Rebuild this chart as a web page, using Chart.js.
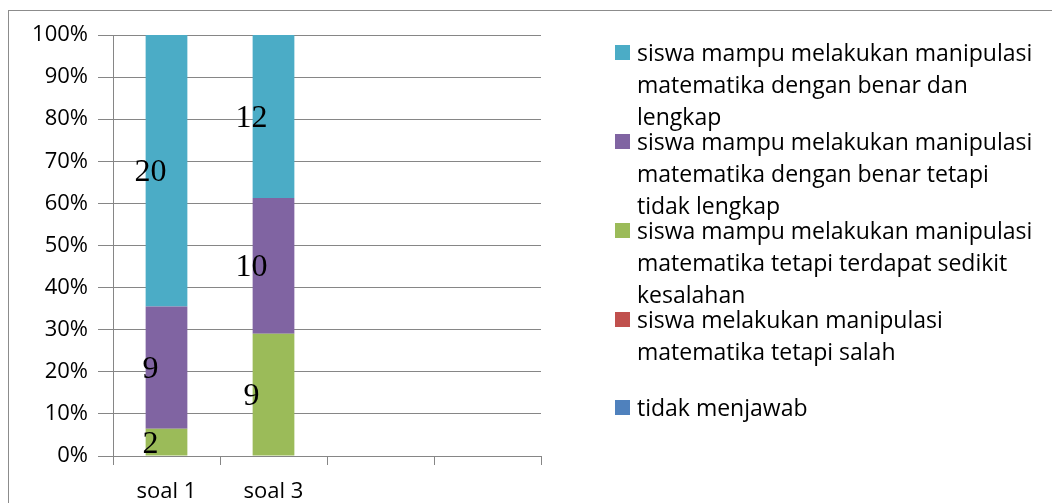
<!DOCTYPE html>
<html>
<head>
<meta charset="utf-8">
<script src="https://cdn.jsdelivr.net/npm/chart.js@4.4.1/dist/chart.umd.min.js"></script>
<style>
  html, body { margin: 0; padding: 0; background: #fff; }
  #wrap { position: relative; width: 1052px; height: 503px; overflow: hidden; }
  #frame { position: absolute; left: 8px; top: 10px; right: -2px; bottom: -2px; border: 1px solid #8c8c8c; }
  #chart { position: absolute; left: 0; top: 0; }
  .item { position: absolute; left: 615px; width: 437px; font-family: 'Open Sans', sans-serif; font-size: 23px; line-height: 32px; color: #000; }
  .item .sw { position: absolute; left: 0; top: 9px; width: 15px; height: 15px; }
  .item .tx { margin-left: 22px; white-space: pre-line; }
</style>
</head>
<body>
<div id="wrap">
  <div id="frame"></div>
  <canvas id="chart" width="1052" height="503"></canvas>
  <div id="legend"></div>
</div>
<script>
const categories = ['soal 1', 'soal 3', '', ''];

// bottom to top of each stack
const seriesNames = [
  'tidak menjawab',
  'siswa melakukan manipulasi\nmatematika tetapi salah',
  'siswa mampu melakukan manipulasi\nmatematika tetapi terdapat sedikit\nkesalahan',
  'siswa mampu melakukan manipulasi\nmatematika dengan benar tetapi\ntidak lengkap',
  'siswa mampu melakukan manipulasi\nmatematika dengan benar dan\nlengkap',
];
const seriesColors = ['#4F81BD', '#C0504D', '#9BBB59', '#8064A2', '#4BACC6'];

// counts per category (soal 1, soal 3, empty, empty)
const tidakMenjawab = [0, 0, 0, 0];
const salah = [0, 0, 0, 0];
const sedikitSalah = [2, 9, 0, 0];
const tidakLengkap = [9, 10, 0, 0];
const benarLengkap = [20, 12, 0, 0];
const counts = [tidakMenjawab, salah, sedikitSalah, tidakLengkap, benarLengkap];

const yTicks = [0, 10, 20, 30, 40, 50, 60, 70, 80, 90, 100];

const totals = categories.map((c, i) => counts.reduce((s, arr) => s + arr[i], 0));
const percents = counts.map(arr => arr.map((v, i) => totals[i] ? v / totals[i] * 100 : 0));

const valueLabels = {
  id: 'valueLabels',
  afterDatasetsDraw(chart) {
    const ctx = chart.ctx;
    ctx.save();
    ctx.font = '32px "Liberation Serif", "Times New Roman", serif';
    ctx.fillStyle = '#000';
    ctx.textAlign = 'center';
    ctx.textBaseline = 'middle';
    chart.data.datasets.forEach((ds, di) => {
      const meta = chart.getDatasetMeta(di);
      meta.data.forEach((el, i) => {
        const v = counts[di][i];
        if (!v) return;
        ctx.fillText(String(v), el.x - 16 - i * 6, (el.y + el.base) / 2 + 2);
      });
    });
    ctx.restore();
  }
};

const tickFont = { family: "'Open Sans', sans-serif", size: 22 };
const gridColor = '#868686';

new Chart(document.getElementById('chart'), {
  type: 'bar',
  data: {
    labels: categories,
    datasets: seriesNames.map((name, i) => ({
      label: name,
      data: percents[i],
      backgroundColor: seriesColors[i],
      borderWidth: 0,
      categoryPercentage: 1,
      barPercentage: 0.39,
    })),
  },
  options: {
    responsive: false,
    animation: false,
    layout: { padding: { left: 0, top: 35, right: 511, bottom: 0 } },
    plugins: { legend: { display: false }, tooltip: { enabled: false } },
    scales: {
      x: {
        stacked: true,
        grid: { display: true, drawOnChartArea: false, color: gridColor, tickLength: 9, offset: true },
        border: { color: gridColor },
        ticks: { color: '#000', font: tickFont, padding: 14, maxRotation: 0 },
        afterFit: s => { s.height = 47; },
      },
      y: {
        stacked: true,
        min: 0,
        max: 100,
        afterBuildTicks: s => { s.ticks = yTicks.map(v => ({ value: v })); },
        grid: { color: gridColor, tickLength: 15 },
        border: { color: gridColor },
        ticks: { color: '#000', font: tickFont, padding: 10, callback: v => v + '%' },
        afterFit: s => { s.width = 113; },
      },
    },
  },
  plugins: [valueLabels],
});

// legend, reversed order like the original
const legend = document.getElementById('legend');
const legendTops = [36, 125, 214, 303, 391];
seriesNames.slice().reverse().forEach((name, k) => {
  const idx = seriesNames.length - 1 - k;
  const div = document.createElement('div');
  div.className = 'item';
  div.style.top = legendTops[k] + 'px';
  div.innerHTML = '<span class="sw" style="background:' + seriesColors[idx] + '"></span><div class="tx"></div>';
  div.querySelector('.tx').textContent = name;
  legend.appendChild(div);
});
</script>
</body>
</html>
